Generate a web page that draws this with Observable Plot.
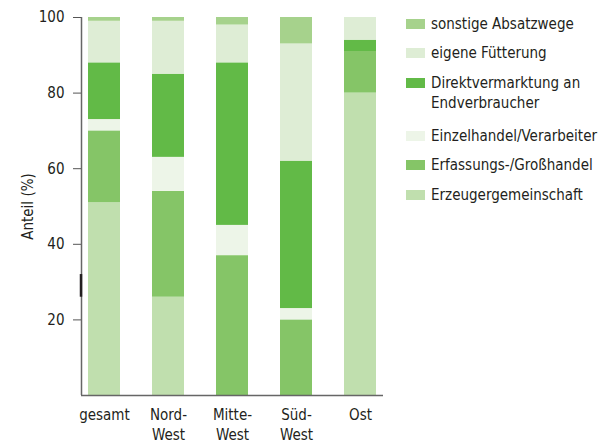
<!DOCTYPE html>
<html>
<head>
<meta charset="utf-8">
<script src="https://cdn.jsdelivr.net/npm/d3@7"></script>
<script src="https://cdn.jsdelivr.net/npm/@observablehq/plot@0.6"></script>
<style>
  html, body { margin: 0; padding: 0; background: #fff; }
  body { width: 599px; height: 445px; position: relative; overflow: hidden;
         font-family: "DejaVu Sans Condensed", "Liberation Sans Narrow", sans-serif; color: #231f20; }
  #chart { position: absolute; left: 0; top: 0; }
  #legend { position: absolute; left: 406px; top: 0; width: 193px; font-size: 15px; }
  .sw { position: absolute; left: 0; width: 19px; height: 10px; }
  .lab { position: absolute; left: 25px; line-height: 20px; white-space: nowrap; }
</style>
</head>
<body>
<div id="chart"></div>
<div id="legend"></div>
<script>
const categories = ["gesamt", "Nord-West", "Mitte-West", "Süd-West", "Ost"];
const categoryLabels = ["gesamt", "Nord-\nWest", "Mitte-\nWest", "Süd-\nWest", "Ost"];
const series = ["Erzeugergemeinschaft", "Erfassungs-/Großhandel", "Einzelhandel/Verarbeiter",
                "Direktvermarktung an Endverbraucher", "eigene Fütterung", "sonstige Absatzwege"];
const erzeuger    = [51, 26,  0,  0, 80];
const erfassung   = [19, 28, 37, 20, 11];
const einzel      = [ 3,  9,  8,  3,  0];
const direkt      = [15, 22, 43, 39,  3];
const fuetterung  = [11, 14, 10, 31,  6];
const sonstige    = [ 1,  1,  2,  7,  0];
const yTicks = [20, 40, 60, 80, 100];
const colors = ["#c0dfae", "#85c567", "#edf5e8", "#62ba47", "#deedd5", "#a6d28c"];

const valueArrays = [erzeuger, erfassung, einzel, direkt, fuetterung, sonstige];
const data = [];
series.forEach((s, si) => {
  categories.forEach((c, ci) => {
    data.push({category: c, series: s, value: valueArrays[si][ci]});
  });
});

const font = '"DejaVu Sans Condensed", "Liberation Sans Narrow", sans-serif';

const plot = Plot.plot({
  width: 385,
  height: 445,
  marginLeft: 81,
  marginRight: 2,
  marginTop: 17,
  marginBottom: 50,
  style: {fontFamily: font, fontSize: "15px", color: "#231f20", background: "transparent"},
  x: {domain: categories, paddingInner: 0.5, paddingOuter: 0.09, axis: null},
  y: {domain: [0, 100], axis: null},
  color: {domain: series, range: colors},
  marks: [
    Plot.barY(data, {x: "category", y: "value", fill: "series", order: series}),
    Plot.axisX({
      tickSize: 0, tickPadding: 11,
      tickFormat: (d) => categoryLabels[categories.indexOf(d)],
      lineHeight: 1.3, label: null, fontSize: 15, fill: "#231f20"
    }),
    Plot.axisY({
      ticks: yTicks, tickSize: 8, tickPadding: 9, stroke: "#555",
      label: "Anteil (%)", labelAnchor: "center", labelArrow: "none", labelOffset: 59,
      fontSize: 15, fill: "#231f20"
    }),
    Plot.ruleY([0], {stroke: "#666", strokeWidth: 1.5}),
    Plot.ruleX([0], {x: () => categories[0], y1: 0, y2: 100, dx: -23, stroke: "#666", strokeWidth: 1.5}),
    Plot.ruleX([0], {x: () => categories[0], y1: 26, y2: 32, dx: -23.5, stroke: "#231f20", strokeWidth: 2.5})
  ]
});
document.getElementById("chart").appendChild(plot);

// legend (top to bottom: reverse stack order)
const legendRows = [
  {s: 5, y: 24, lines: ["sonstige Absatzwege"]},
  {s: 4, y: 53, lines: ["eigene Fütterung"]},
  {s: 3, y: 83, lines: ["Direktvermarktung an", "Endverbraucher"]},
  {s: 2, y: 136, lines: ["Einzelhandel/Verarbeiter"]},
  {s: 1, y: 165, lines: ["Erfassungs-/Großhandel"]},
  {s: 0, y: 195, lines: ["Erzeugergemeinschaft"]}
];
const legend = document.getElementById("legend");
legendRows.forEach(r => {
  const sw = document.createElement("div");
  sw.className = "sw";
  sw.style.top = (r.y - 5) + "px";
  sw.style.background = colors[r.s];
  legend.appendChild(sw);
  const lab = document.createElement("div");
  lab.className = "lab";
  lab.style.top = (r.y - 10) + "px";
  lab.innerHTML = r.lines.join("<br>");
  legend.appendChild(lab);
});
</script>
</body>
</html>
